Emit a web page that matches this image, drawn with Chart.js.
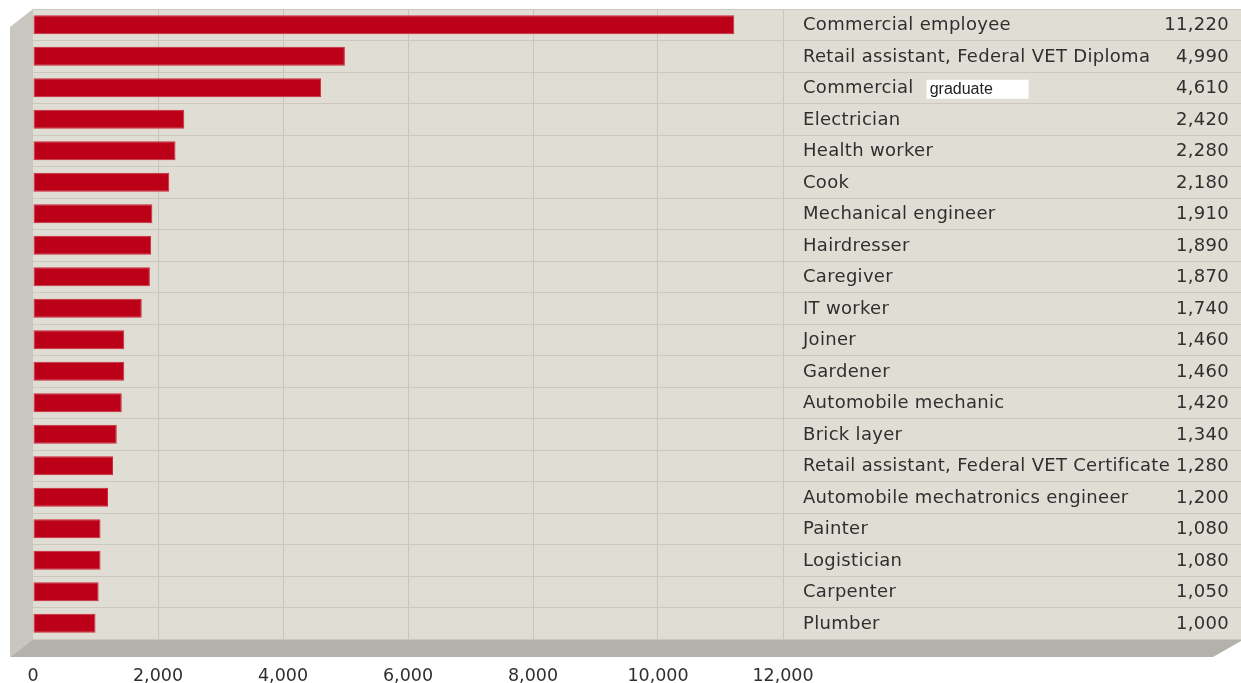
<!DOCTYPE html>
<html>
<head>
<meta charset="utf-8">
<script src="https://cdn.jsdelivr.net/npm/chart.js@4"></script>
<style>
  html, body { margin: 0; padding: 0; background: #fff; }
  #wrap { width: 1241px; height: 683px; }
</style>
</head>
<body>
<div id="wrap"><canvas id="grafico" width="1241" height="683"></canvas></div>
<script>
var profissoes = ['Commercial employee', 'Retail assistant, Federal VET Diploma', 'Commercial graduate',
  'Electrician', 'Health worker', 'Cook', 'Mechanical engineer', 'Hairdresser', 'Caregiver',
  'IT worker', 'Joiner', 'Gardener', 'Automobile mechanic', 'Brick layer',
  'Retail assistant, Federal VET Certificate', 'Automobile mechatronics engineer', 'Painter',
  'Logistician', 'Carpenter', 'Plumber'];
var contratos = [11220, 4990, 4610, 2420, 2280, 2180, 1910, 1890, 1870, 1740,
  1460, 1460, 1420, 1340, 1280, 1200, 1080, 1080, 1050, 1000];
var marcas = [0, 2000, 4000, 6000, 8000, 10000, 12000];

var fundo = '#e0ddd5';
var fonte = '"DejaVu Sans", sans-serif';
var corTexto = '#2f2f2f';

// moldura 3D + textos da coluna da direita
var painel = {
  id: 'painel',
  beforeDraw: function(chart) {
    var c = chart.ctx, a = chart.chartArea;
    c.save();
    c.fillStyle = fundo;
    c.fillRect(a.left, a.top, a.right - a.left, a.bottom - a.top);
    // face esquerda
    c.fillStyle = '#c9c6bf';
    c.beginPath();
    c.moveTo(a.left - 23, a.top + 18);
    c.lineTo(a.left, a.top);
    c.lineTo(a.left, a.bottom);
    c.lineTo(a.left - 23, a.bottom + 18);
    c.closePath();
    c.fill();
    // face de baixo
    c.fillStyle = '#b4b1ab';
    c.beginPath();
    c.moveTo(a.left, a.bottom);
    c.lineTo(a.right, a.bottom);
    c.lineTo(a.right, a.bottom + 2);
    c.lineTo(a.right - 28, a.bottom + 18);
    c.lineTo(a.left - 23, a.bottom + 18);
    c.closePath();
    c.fill();
    c.restore();
  },
  afterDatasetsDraw: function(chart) {
    var c = chart.ctx, a = chart.chartArea;
    var x = chart.scales.x, y = chart.scales.y;
    var xTexto = x.getPixelForValue(12000) + 20;
    c.save();
    c.font = '18px ' + fonte;
    c.letterSpacing = '0.3px';
    c.textBaseline = 'middle';
    profissoes.forEach(function(p, i) {
      var py = y.getPixelForValue(i) + 1;
      c.fillStyle = corTexto;
      c.textAlign = 'left';
      if (p === 'Commercial graduate') {
        c.fillText('Commercial', xTexto, py);
        var w = c.measureText('Commercial').width;
        c.fillStyle = '#ffffff';
        c.fillRect(xTexto + w + 13, py - 9, 102, 19);
        c.fillStyle = '#222';
        c.letterSpacing = '0px';
        c.font = '16px "Liberation Sans", sans-serif';
        c.fillText('graduate', xTexto + w + 16, py + 1);
        c.font = '18px ' + fonte;
        c.letterSpacing = '0.3px';
        c.fillStyle = corTexto;
      } else {
        c.fillText(p, xTexto, py);
      }
      c.textAlign = 'right';
      c.fillText(contratos[i].toLocaleString('en-US'), a.right - 12, py);
    });
    c.restore();
  }
};

var ctx = document.getElementById('grafico').getContext('2d');
var myChart = new Chart(ctx, {
  type: 'bar',
  data: {
    labels: profissoes,
    datasets: [{
      data: contratos,
      backgroundColor: '#bb0018',
      borderColor: '#cc2a3a',
      borderWidth: 1,
      borderSkipped: false,
      barPercentage: 0.6,
      categoryPercentage: 1
    }]
  },
  options: {
    indexAxis: 'y',
    responsive: false,
    animation: false,
    layout: { padding: { left: 33, top: 9, right: 0, bottom: -31 } },
    scales: {
      x: {
        min: 0,
        max: 19328,
        afterBuildTicks: function(axis) {
          axis.ticks = marcas.map(function(v) { return { value: v }; });
        },
        border: { display: false },
        grid: {
          drawTicks: false,
          color: function(ctx) {
            return ctx.tick && ctx.tick.value > 0 ? '#c9c5bd' : 'rgba(0,0,0,0)';
          }
        },
        ticks: {
          autoSkip: false,
          maxRotation: 0,
          padding: 27,
          color: corTexto,
          font: { family: fonte, size: 17.5 },
          callback: function(v) { return v.toLocaleString('en-US'); }
        }
      },
      y: {
        border: { display: false },
        grid: { offset: true, drawTicks: false, color: '#ccc8c0' },
        ticks: { display: false }
      }
    },
    plugins: {
      legend: { display: false },
      tooltip: { enabled: false }
    }
  },
  plugins: [painel]
});
</script>
</body>
</html>
